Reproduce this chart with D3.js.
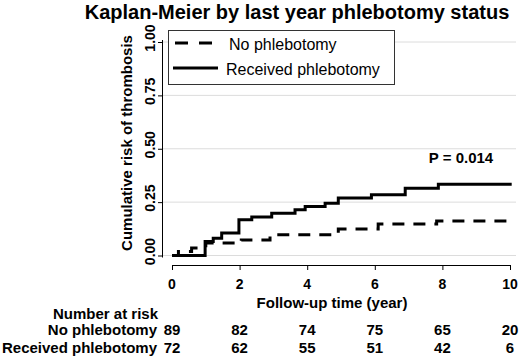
<!DOCTYPE html>
<html>
<head>
<meta charset="utf-8">
<script src="https://cdn.jsdelivr.net/npm/d3@7"></script>
<style>
  body { margin: 0; background: #fff; }
  svg text { font-family: "Liberation Sans", Arial, sans-serif; fill: #000; }
</style>
</head>
<body>
<div id="chart"></div>
<script>
// step times (years) and cumulative risk after each step
const noPhlebTimes = [0, 0.19, 0.58, 1.0, 2.05, 2.9, 4.92, 6.1, 7.83, 10.05];
const noPhlebRisk  = [0, 0.019, 0.035, 0.058, 0.073, 0.097, 0.124, 0.148, 0.162, 0.162];
const recvTimes = [0, 0.98, 1.22, 1.47, 1.98, 2.36, 2.95, 3.64, 3.94, 4.53, 4.92, 5.9, 6.9, 7.88, 10.05];
const recvRisk  = [0, 0.066, 0.081, 0.105, 0.167, 0.18, 0.198, 0.214, 0.229, 0.245, 0.269, 0.284, 0.315, 0.334, 0.334];

const xTicks = [0, 2, 4, 6, 8, 10];
const yTicks = [0, 0.25, 0.5, 0.75, 1];
const yTickLabels = ["0.00", "0.25", "0.50", "0.75", "1.00"];
const riskNoPhleb = [89, 82, 74, 75, 65, 20];
const riskRecv = [72, 62, 55, 51, 42, 6];

const W = 520, H = 358;
const svg = d3.select("#chart").append("svg")
  .attr("width", W).attr("height", H);

const x = d3.scaleLinear().domain([0, 10]).range([172, 510]);
const y = d3.scaleLinear().domain([0, 1]).range([255.5, 42]);
const plotLeft = 163, plotRight = 516;

// title
svg.append("text")
  .attr("x", 297).attr("y", 19)
  .attr("text-anchor", "middle")
  .style("font-size", "20px").style("font-weight", "bold")
  .text("Kaplan-Meier by last year phlebotomy status");

// gridlines
svg.append("g").selectAll("line")
  .data(yTicks).enter().append("line")
  .attr("x1", plotLeft).attr("x2", plotRight)
  .attr("y1", d => y(d)).attr("y2", d => y(d))
  .attr("stroke", "#dcdcdc").attr("stroke-width", 1);

// y axis
const yAxis = svg.append("g")
  .attr("transform", `translate(${plotLeft},0)`)
  .call(d3.axisLeft(y).tickValues(yTicks).tickSize(5).tickFormat(""));
yAxis.select(".domain").attr("d", `M-0.5,${y(1) - 2}V${y(0) + 2}`).attr("stroke", "#000");
yAxis.selectAll(".tick line").attr("stroke", "#000");

svg.append("g").selectAll("text")
  .data(yTicks).enter().append("text")
  .attr("transform", d => `translate(155,${y(d) - 4}) rotate(-90)`)
  .attr("text-anchor", "middle")
  .style("font-size", "14px").style("font-weight", "bold")
  .text((d, i) => yTickLabels[i]);

svg.append("text")
  .attr("transform", `translate(132,143) rotate(-90)`)
  .attr("text-anchor", "middle")
  .style("font-size", "15px").style("font-weight", "bold")
  .text("Cumulative risk of thrombosis");

// x axis
const xAxis = svg.append("g")
  .attr("transform", "translate(0,265)")
  .call(d3.axisBottom(x).tickValues(xTicks).tickSize(5).tickFormat(""));
xAxis.select(".domain").attr("d", `M${x(0)},0.5H${x(10)}`).attr("stroke", "#000");
xAxis.selectAll(".tick line").attr("stroke", "#000");

svg.append("g").selectAll("text")
  .data(xTicks).enter().append("text")
  .attr("x", d => x(d)).attr("y", 289)
  .attr("text-anchor", "middle")
  .style("font-size", "14px").style("font-weight", "bold")
  .text(d => d);

svg.append("text")
  .attr("x", 332).attr("y", 308)
  .attr("text-anchor", "middle")
  .style("font-size", "15px").style("font-weight", "bold")
  .text("Follow-up time (year)");

// curves
const line = d3.line().curve(d3.curveStepAfter)
  .x(d => x(d[0])).y(d => y(d[1]));

svg.append("path")
  .datum(d3.zip(noPhlebTimes, noPhlebRisk))
  .attr("d", line)
  .attr("fill", "none").attr("stroke", "#000")
  .attr("stroke-width", 3).attr("stroke-dasharray", "12,9");

svg.append("path")
  .datum(d3.zip(recvTimes, recvRisk))
  .attr("d", line)
  .attr("fill", "none").attr("stroke", "#000")
  .attr("stroke-width", 3);

svg.append("text")
  .attr("x", 461).attr("y", 163)
  .attr("text-anchor", "middle")
  .style("font-size", "15px").style("font-weight", "bold")
  .text("P = 0.014");

// legend
const legend = svg.append("g");
legend.append("rect")
  .attr("x", 168.5).attr("y", 30.5).attr("width", 226).attr("height", 54)
  .attr("fill", "#fff").attr("stroke", "#333").attr("stroke-width", 1);
legend.append("line")
  .attr("x1", 175).attr("x2", 212).attr("y1", 43).attr("y2", 43)
  .attr("stroke", "#000").attr("stroke-width", 3).attr("stroke-dasharray", "13,11");
legend.append("text")
  .attr("x", 229).attr("y", 50)
  .style("font-size", "16px")
  .text("No phlebotomy");
legend.append("line")
  .attr("x1", 173).attr("x2", 218).attr("y1", 68).attr("y2", 68)
  .attr("stroke", "#000").attr("stroke-width", 3);
legend.append("text")
  .attr("x", 226).attr("y", 75)
  .style("font-size", "16px")
  .text("Received phlebotomy");

// number at risk table
svg.append("text")
  .attr("x", 158).attr("y", 319)
  .attr("text-anchor", "end")
  .style("font-size", "15px").style("font-weight", "bold")
  .text("Number at risk");

const rows = [
  {label: "No phlebotomy", counts: riskNoPhleb, y: 335},
  {label: "Received phlebotomy", counts: riskRecv, y: 353}
];
rows.forEach(r => {
  svg.append("text")
    .attr("x", 157).attr("y", r.y)
    .attr("text-anchor", "end")
    .style("font-size", "15px").style("font-weight", "bold")
    .text(r.label);
  svg.append("g").selectAll("text")
    .data(r.counts).enter().append("text")
    .attr("x", (d, i) => x(xTicks[i])).attr("y", r.y)
    .attr("text-anchor", "middle")
    .style("font-size", "15px").style("font-weight", "bold")
    .text(d => d);
});
</script>
</body>
</html>
